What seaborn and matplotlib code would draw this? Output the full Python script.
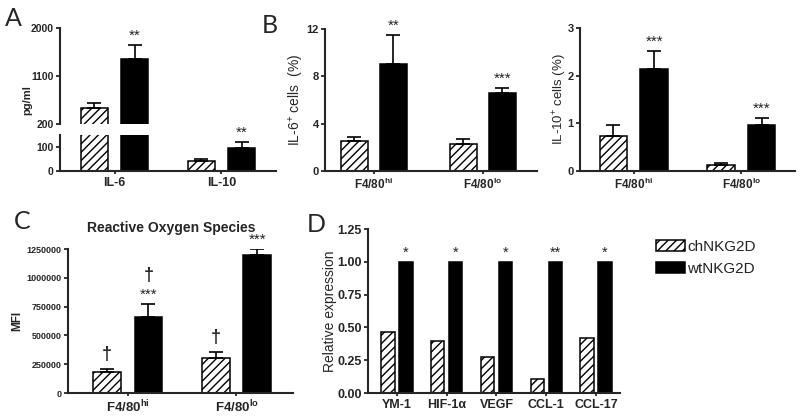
import matplotlib
matplotlib.use("Agg")
import numpy as np
import pandas as pd
import matplotlib.pyplot as plt
import seaborn as sns
from matplotlib.patches import Patch
from matplotlib.ticker import StrMethodFormatter

# ---------------------------------------------------------------------------
# data
# ---------------------------------------------------------------------------
GENOTYPES = ["chNKG2D", "wtNKG2D"]

# A - cytokines in supernatant (pg/ml)
cyto_groups = ["IL-6", "IL-10"]
cyto_ch = [505, 42]
cyto_ch_err = [88, 8]
cyto_wt = [1428, 97]
cyto_wt_err = [260, 25]
cyto_wt_stars = ["**", "**"]

# B - percentage of positive cells
f480_groups = ["F4/80$^{hi}$", "F4/80$^{lo}$"]
il6_ch = [2.55, 2.32]
il6_ch_err = [0.30, 0.38]
il6_wt = [9.0, 6.55]
il6_wt_err = [2.5, 0.48]
il6_wt_stars = ["**", "***"]

il10_ch = [0.73, 0.13]
il10_ch_err = [0.24, 0.03]
il10_wt = [2.14, 0.97]
il10_wt_err = [0.38, 0.14]
il10_wt_stars = ["***", "***"]

# C - reactive oxygen species (MFI)
ros_ch = [183000, 304000]
ros_ch_err = [25000, 52000]
ros_wt = [662000, 1198000]
ros_wt_err = [112000, 52000]
ros_wt_stars = ["***", "***"]
ros_ch_dagger = [True, True]
ros_wt_dagger = [True, False]

# D - relative expression
gene_groups = ["YM-1", "HIF-1α", "VEGF", "CCL-1", "CCL-17"]
gene_ch = [0.467, 0.40, 0.272, 0.105, 0.42]
gene_wt = [1.0, 1.0, 1.0, 1.0, 1.0]
gene_wt_stars = ["*", "*", "*", "**", "*"]

# ---------------------------------------------------------------------------
W, H = 800, 419
sns.set_theme(style="ticks")
plt.rcParams["font.family"] = ["Liberation Sans", "DejaVu Sans"]
plt.rcParams["font.weight"] = "bold"
plt.rcParams["axes.labelweight"] = "bold"
plt.rcParams["mathtext.fontset"] = "custom"
plt.rcParams["mathtext.rm"] = "Liberation Sans"
plt.rcParams["mathtext.default"] = "regular"
plt.rcParams["hatch.linewidth"] = 1.0
plt.rcParams["axes.linewidth"] = 1.5

fig = plt.figure(figsize=(W / 100, H / 100), dpi=100)


def px_axes(x0, y0, x1, y1):
    return fig.add_axes([x0 / W, 1 - y1 / H, (x1 - x0) / W, (y1 - y0) / H])


def make_frame(groups, ch, wt):
    n = len(groups)
    return pd.DataFrame({
        "group": list(groups) * 2,
        "genotype": [GENOTYPES[0]] * n + [GENOTYPES[1]] * n,
        "value": list(ch) + list(wt),
    })


def draw_bars(ax, df, width=0.76, gap=0.33):
    sns.barplot(data=df, x="group", y="value", hue="genotype", hue_order=GENOTYPES,
                palette={"chNKG2D": "white", "wtNKG2D": "black"}, saturation=1,
                width=width, gap=gap, edgecolor="black", linewidth=1.1,
                errorbar=None, legend=False, ax=ax)
    for bar in ax.containers[0]:
        bar.set_hatch("////")
    ax.set_xlabel("")
    ax.set_ylabel("")


def bar_tops(container):
    xs = [b.get_x() + b.get_width() / 2 for b in container]
    hs = [b.get_height() for b in container]
    return np.array(xs), np.array(hs)


def add_errors(ax, container, errs):
    xs, hs = bar_tops(container)
    ax.errorbar(xs, hs, yerr=[np.zeros(len(errs)), errs], fmt="none", ecolor="black",
                elinewidth=1.2, capsize=5, capthick=1.2, zorder=3)


def add_marks(ax, container, errs, marks, size=11, pad=1.5, weight="normal"):
    xs, hs = bar_tops(container)
    for x, h, e, m in zip(xs, hs, errs, marks):
        if m:
            ax.annotate(m, (x, h + e), xytext=(0, pad), textcoords="offset points",
                        ha="center", va="bottom", fontsize=size, fontweight=weight,
                        color="#222222", annotation_clip=False)


def style_axis(ax, ysize, xsize):
    sns.despine(ax=ax)
    ax.tick_params(axis="y", length=3, width=1.3, labelsize=ysize, pad=1.5)
    ax.tick_params(axis="x", length=2.5, width=1.3, labelsize=xsize, pad=1.5)


# ---------------------------------------------------------------- panel A
df_a = make_frame(cyto_groups, cyto_ch, cyto_wt)
ax_top = px_axes(60, 28, 276, 124)
ax_bot = px_axes(60, 135, 276, 171)
for ax in (ax_top, ax_bot):
    draw_bars(ax, df_a)
    add_errors(ax, ax.containers[0], cyto_ch_err)
    add_errors(ax, ax.containers[1], cyto_wt_err)
    ax.set_xlim(-0.51, 1.51)
    style_axis(ax, 7.5, 9)
ax_top.set_ylim(200, 2000)
ax_top.set_yticks([200, 1100, 2000])
ax_top.spines["bottom"].set_visible(False)
ax_top.tick_params(axis="x", bottom=False, labelbottom=False)
ax_bot.set_ylim(0, 150)
ax_bot.set_yticks([0, 100])
xs, hs = bar_tops(ax_top.containers[1])
for i, top in enumerate(hs + np.array(cyto_wt_err)):
    target = ax_top if top > 200 else ax_bot
    add_marks(target, [target.containers[1][i]], [cyto_wt_err[i]], [cyto_wt_stars[i]])
ax_top.set_ylabel("pg/ml", fontsize=8)
ax_top.yaxis.set_label_coords(-0.13, 0.25)

# ---------------------------------------------------------------- panel B
ax_b1 = px_axes(325, 29, 537, 171)
draw_bars(ax_b1, make_frame(f480_groups, il6_ch, il6_wt), width=0.72, gap=0.31)
add_errors(ax_b1, ax_b1.containers[0], il6_ch_err)
add_errors(ax_b1, ax_b1.containers[1], il6_wt_err)
add_marks(ax_b1, ax_b1.containers[1], il6_wt_err, il6_wt_stars)
ax_b1.set_xlim(-0.45, 1.5)
ax_b1.set_ylim(0, 12)
ax_b1.set_yticks([0, 4, 8, 12])
style_axis(ax_b1, 8, 8.5)
ax_b1.set_ylabel("IL-6$^{+}$ cells  (%)", fontsize=10, fontweight="normal", labelpad=0)

ax_b2 = px_axes(580, 28, 795, 171)
draw_bars(ax_b2, make_frame(f480_groups, il10_ch, il10_wt))
add_errors(ax_b2, ax_b2.containers[0], il10_ch_err)
add_errors(ax_b2, ax_b2.containers[1], il10_wt_err)
add_marks(ax_b2, ax_b2.containers[1], il10_wt_err, il10_wt_stars)
ax_b2.set_xlim(-0.5, 1.5)
ax_b2.set_ylim(0, 3)
ax_b2.set_yticks([0, 1, 2, 3])
style_axis(ax_b2, 8, 8.5)
ax_b2.set_ylabel("IL-10$^{+}$ cells (%)", fontsize=9.5, fontweight="normal", labelpad=-1)

# ---------------------------------------------------------------- panel C
ax_c = px_axes(68, 249, 293, 393)
draw_bars(ax_c, make_frame(f480_groups, ros_ch, ros_wt))
add_errors(ax_c, ax_c.containers[0], ros_ch_err)
add_errors(ax_c, ax_c.containers[1], ros_wt_err)
add_marks(ax_c, ax_c.containers[1], ros_wt_err, ros_wt_stars)
add_marks(ax_c, ax_c.containers[0], ros_ch_err,
          ["†" if d else "" for d in ros_ch_dagger], size=13, pad=4, weight="bold")
add_marks(ax_c, ax_c.containers[1], ros_wt_err,
          ["†" if d else "" for d in ros_wt_dagger], size=13, pad=14, weight="bold")
ax_c.set_xlim(-0.55, 1.52)
ax_c.set_ylim(0, 1250000)
ax_c.set_yticks([0, 250000, 500000, 750000, 1000000, 1250000])
ax_c.yaxis.set_major_formatter(StrMethodFormatter("{x:.0f}"))
style_axis(ax_c, 6.5, 9.5)
ax_c.set_ylabel("MFI", fontsize=8.5, labelpad=2.5)
ax_c.set_title("Reactive Oxygen Species", fontsize=10, fontweight="bold", pad=12, x=0.46)

# ---------------------------------------------------------------- panel D
ax_d = px_axes(368, 229, 620, 393)
draw_bars(ax_d, make_frame(gene_groups, gene_ch, gene_wt), width=0.72, gap=0.25)
add_marks(ax_d, ax_d.containers[1], [0] * len(gene_wt), gene_wt_stars, size=10.5)
ax_d.set_xlim(-0.58, 4.48)
ax_d.set_ylim(0, 1.25)
ax_d.set_yticks([0, 0.25, 0.5, 0.75, 1.0, 1.25])
ax_d.yaxis.set_major_formatter(StrMethodFormatter("{x:.2f}"))
style_axis(ax_d, 9, 9)
ax_d.set_ylabel("Relative expression", fontsize=10, fontweight="normal", labelpad=0.5)

# legend
handles = [Patch(facecolor="white", edgecolor="black", hatch="////", linewidth=1.1),
           Patch(facecolor="black", edgecolor="black", linewidth=1.1)]
fig.legend(handles, GENOTYPES, loc="upper left", bbox_to_anchor=(656 / W, 1 - 240 / H),
           frameon=False, borderpad=0, borderaxespad=0, handlelength=1.9,
           handleheight=0.72, handletextpad=0.15, labelspacing=0.5,
           prop={"size": 11, "weight": "normal"}, labelcolor="#222222")

# panel letters
for letter, (x, y) in {"A": (5, 26), "B": (262, 33), "C": (14, 229), "D": (307, 232)}.items():
    fig.text(x / W, 1 - y / H, letter, fontsize=18, fontweight="normal",
             family=["Lato", "DejaVu Sans"], ha="left", va="baseline")

fig.savefig("out.png", dpi=100)
